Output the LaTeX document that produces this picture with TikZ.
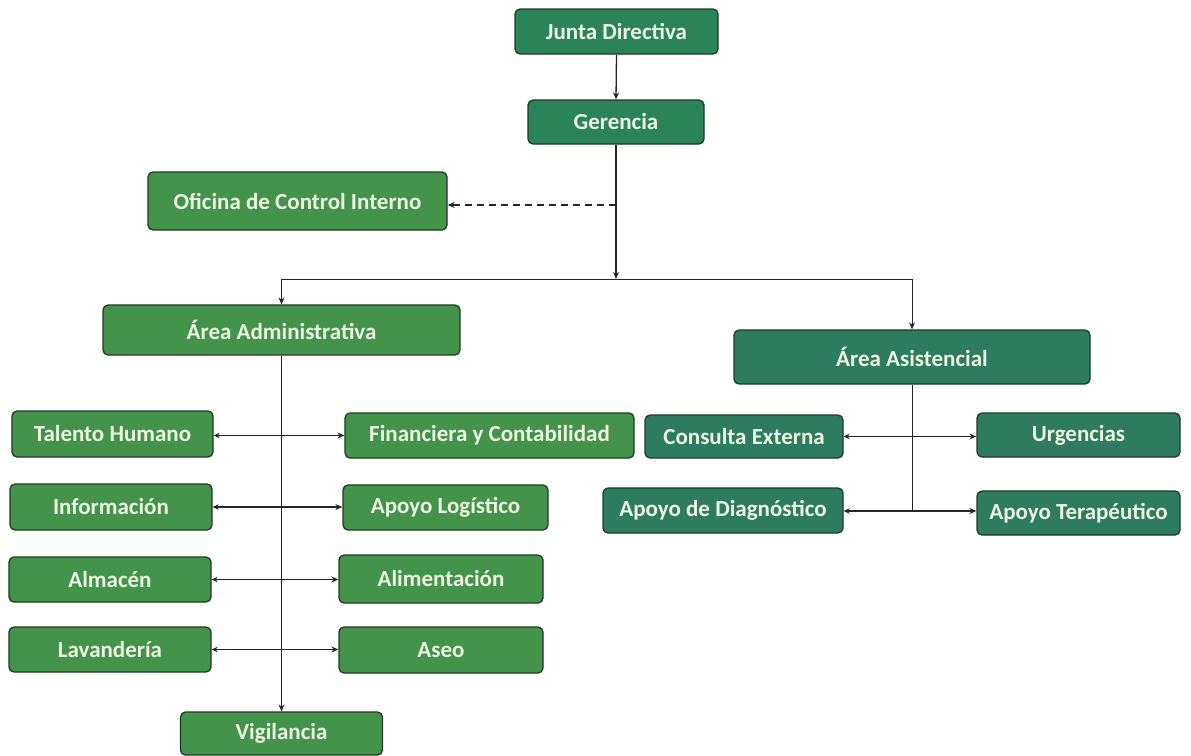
\documentclass[tikz,border=0pt]{standalone}
\usepackage{fontspec}
\setmainfont{Carlito}
\usetikzlibrary{arrows.meta}
\definecolor{gA}{HTML}{43934A}
\definecolor{gT}{HTML}{2B8457}
\definecolor{gR}{HTML}{2D7C60}
\definecolor{edge}{HTML}{203A26}
\definecolor{txt}{HTML}{EEF4E2}
\definecolor{ln}{HTML}{262626}
\tikzset{
  box/.style={rounded corners=5pt, draw=edge, line width=1.3pt, text=txt,
    font=\fontsize{23}{26}\selectfont\bfseries, inner sep=0pt, align=center},
  lbox/.style={box, fill=gA},
  tbox/.style={box, fill=gT},
  rbox/.style={box, fill=gR},
  conn/.style={draw=ln, line width=1.3pt},
  tip/.style={-{Stealth[length=7pt,width=6pt]}},
  tips/.style={{Stealth[length=6pt,width=5.5pt]}-{Stealth[length=7pt,width=6pt]}}
}
\begin{document}
\begin{tikzpicture}[x=1pt,y=-1pt]
\useasboundingbox[fill=white] (0,0) rectangle (1191,755);
% top
\node[tbox, minimum width=203pt, minimum height=45pt] (jd) at (616.5,31.5) {Junta Directiva};
\node[tbox, minimum width=176pt, minimum height=44pt] (ger) at (616,122) {Gerencia};
\node[lbox, minimum width=299pt, minimum height=58pt] (oci) at (297.5,201) {Oficina de Control Interno};
% areas
\node[lbox, minimum width=357pt, minimum height=50pt] (adm) at (281.5,330) {Área Administrativa};
\node[rbox, minimum width=356pt, minimum height=54pt] (asi) at (912,357) {Área Asistencial};
% left group
\node[lbox, minimum width=201pt, minimum height=46pt] (tal) at (112.5,434) {Talento Humano};
\node[lbox, minimum width=289pt, minimum height=45pt] (fin) at (489.5,435.5) {Financiera y Contabilidad};
\node[lbox, minimum width=202pt, minimum height=46pt] (inf) at (111,507) {Información};
\node[lbox, minimum width=205pt, minimum height=45pt] (log) at (445.5,507.5) {Apoyo Logístico};
\node[lbox, minimum width=202pt, minimum height=45pt] (alm) at (110,579.5) {Almacén};
\node[lbox, minimum width=204pt, minimum height=48pt] (ali) at (441,579) {Alimentación};
\node[lbox, minimum width=202pt, minimum height=45pt] (lav) at (110,649.5) {Lavandería};
\node[lbox, minimum width=204pt, minimum height=46pt] (ase) at (441,650) {Aseo};
\node[lbox, minimum width=202pt, minimum height=43pt] (vig) at (281.5,733.5) {Vigilancia};
% right group
\node[rbox, minimum width=198pt, minimum height=43pt] (con) at (744,436.5) {Consulta Externa};
\node[rbox, minimum width=203pt, minimum height=44pt] (urg) at (1078.5,435) {Urgencias};
\node[rbox, minimum width=240pt, minimum height=45pt] (dia) at (723,510.5) {Apoyo de Diagnóstico};
\node[rbox, minimum width=203pt, minimum height=44pt] (ter) at (1078.5,513) {Apoyo Terapéutico};
% coordinates
\coordinate (j) at (616,279);
\coordinate (d) at (616,205);
\coordinate (b) at (912,511);
% connectors
\draw[conn,tip] (jd.south) -- (ger.north);
\draw[conn,tip] (ger.south) -- (j);
\draw[conn,dashed,dash pattern=on 7pt off 5pt,tip] (d) -- (oci.east |- d);
\draw[conn,line width=1pt,tip] (j) -| (adm.north);
\draw[conn,line width=1pt,tip] (j) -| (asi.north);
\draw[conn,line width=1pt,tip] (adm.south) -- (vig.north);
\draw[conn,tips] (tal.east |- fin.west) -- (fin.west);
\draw[conn,tips] (inf.east) -- (inf.east -| log.west);
\draw[conn,tips] (alm.east) -- (alm.east -| ali.west);
\draw[conn,tips] (lav.east) -- (lav.east -| ase.west);
\draw[conn,line width=1pt] (asi.south) -- (b);
\draw[conn,tips] (con.east) -- (con.east -| urg.west);
\draw[conn,tips] (dia.east |- b) -- (ter.west |- b);
\end{tikzpicture}
\end{document}
